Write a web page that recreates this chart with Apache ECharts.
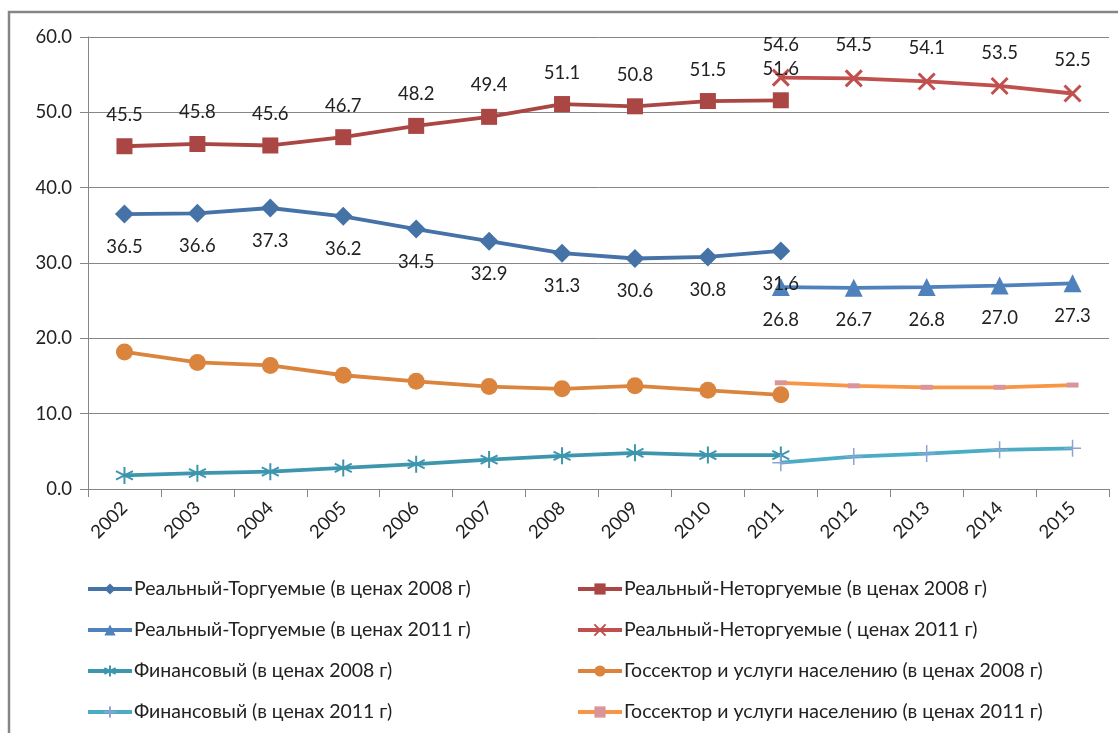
<!DOCTYPE html>
<html>
<head>
<meta charset="utf-8">
<script src="https://cdn.jsdelivr.net/npm/echarts@6/dist/echarts.min.js"></script>
<style>
  html, body { margin: 0; padding: 0; background: #fff; }
  #chart { width: 1118px; height: 733px; }
</style>
</head>
<body>
<div id="chart"></div>
<script>
// Years on the category axis
const years = ['2002','2003','2004','2005','2006','2007','2008','2009','2010','2011','2012','2013','2014','2015'];
const yTicks = { min: 0, max: 60, interval: 10 };

// Shares by sector, 2008 prices (2002–2011) and 2011 prices (2011–2015)
const tradable2008    = [36.5, 36.6, 37.3, 36.2, 34.5, 32.9, 31.3, 30.6, 30.8, 31.6, null, null, null, null];
const nonTradable2008 = [45.5, 45.8, 45.6, 46.7, 48.2, 49.4, 51.1, 50.8, 51.5, 51.6, null, null, null, null];
const tradable2011    = [null, null, null, null, null, null, null, null, null, 26.8, 26.7, 26.8, 27.0, 27.3];
const nonTradable2011 = [null, null, null, null, null, null, null, null, null, 54.6, 54.5, 54.1, 53.5, 52.5];
const financial2008   = [1.8, 2.1, 2.3, 2.8, 3.3, 3.9, 4.4, 4.8, 4.5, 4.5, null, null, null, null];
const publicSvc2008   = [18.2, 16.8, 16.4, 15.1, 14.3, 13.6, 13.3, 13.7, 13.1, 12.5, null, null, null, null];
const financial2011   = [null, null, null, null, null, null, null, null, null, 3.5, 4.3, 4.7, 5.2, 5.4];
const publicSvc2011   = [null, null, null, null, null, null, null, null, null, 14.1, 13.7, 13.5, 13.5, 13.8];

const names = [
  'Реальный-Торгуемые (в ценах 2008 г)',
  'Реальный-Неторгуемые (в ценах 2008 г)',
  'Реальный-Торгуемые (в ценах 2011 г)',
  'Реальный-Неторгуемые ( ценах 2011 г)',
  'Финансовый (в ценах 2008 г)',
  'Госсектор и услуги населению (в ценах 2008 г)',
  'Финансовый (в ценах 2011 г)',
  'Госсектор и услуги населению (в ценах 2011 г)'
];

const FONT = 'Lato, "Noto Sans", sans-serif';
const TEXT = '#222';

const X_PATH = 'path://M0,0L10,10M10,0L0,10';
const STAR_PATH = 'path://M5,0L5,10M0.7,2.5L9.3,7.5M0.7,7.5L9.3,2.5';
const PLUS_PATH = 'path://M5,0L5,10M0,5L10,5';
const DASH_PATH = 'path://M0,0L12,0L12,5L0,5Z';

const valueLabel = (pos) => ({
  show: true,
  position: pos,
  distance: 14,
  fontFamily: FONT,
  fontSize: 18.5,
  color: TEXT,
  formatter: (p) => p.value == null ? '' : Number(p.value).toFixed(1)
});

function lineSeries(name, data, color, extra) {
  return Object.assign({
    name: name,
    type: 'line',
    data: data,
    connectNulls: false,
    lineStyle: { color: color, width: 3.8 },
    itemStyle: { color: color },
    emphasis: { disabled: true },
    z: 3
  }, extra);
}

const series = [
  lineSeries(names[0], tradable2008, '#4572a7', {
    symbol: 'diamond', symbolSize: 19, label: valueLabel('bottom')
  }),
  lineSeries(names[1], nonTradable2008, '#aa4643', {
    symbol: 'rect', symbolSize: 16, label: valueLabel('top')
  }),
  lineSeries(names[2], tradable2011, '#4f81bd', {
    symbol: 'triangle', symbolSize: 18, label: valueLabel('bottom')
  }),
  lineSeries(names[3], nonTradable2011, '#c0504d', {
    symbol: X_PATH, symbolSize: 16,
    itemStyle: { color: 'transparent', borderColor: '#c0504d', borderWidth: 3 },
    label: valueLabel('top')
  }),
  lineSeries(names[4], financial2008, '#3d96ae', {
    symbol: STAR_PATH, symbolSize: 17,
    itemStyle: { color: 'transparent', borderColor: '#3d96ae', borderWidth: 2 }
  }),
  lineSeries(names[5], publicSvc2008, '#db843d', {
    symbol: 'circle', symbolSize: 17
  }),
  lineSeries(names[6], financial2011, '#4bacc6', {
    symbol: PLUS_PATH, symbolSize: 17,
    itemStyle: { color: 'transparent', borderColor: '#8da4d0', borderWidth: 1.5 }
  }),
  lineSeries(names[7], publicSvc2011, '#f79646', {
    symbol: DASH_PATH, symbolSize: [12, 5],
    itemStyle: { color: '#d9959a' }
  })
];

const legendCommon = {
  orient: 'vertical',
  itemWidth: 44,
  itemHeight: 14,
  itemGap: 21,
  padding: 0,
  height: 200,
  symbolKeepAspect: true,
  selectedMode: false,
  lineStyle: { width: 4 },
  textStyle: { fontFamily: FONT, fontSize: 19.5, color: TEXT, padding: [0, 0, 0, -3] }
};

const chart = echarts.init(document.getElementById('chart'), null, { renderer: 'canvas' });
chart.setOption({
  animation: false,
  backgroundColor: '#fff',
  grid: { left: 88, top: 37, right: 9, bottom: 244, containLabel: false },
  xAxis: {
    type: 'category',
    data: years,
    boundaryGap: true,
    axisLine: { lineStyle: { color: '#868686', width: 1 } },
    axisTick: { show: true, length: 8, lineStyle: { color: '#868686' } },
    axisLabel: { rotate: 45, margin: 16, fontFamily: FONT, fontSize: 18.5, color: TEXT }
  },
  yAxis: {
    type: 'value',
    min: yTicks.min,
    max: yTicks.max,
    interval: yTicks.interval,
    axisLine: { show: true, lineStyle: { color: '#868686', width: 1 } },
    axisTick: { show: true, length: 8, lineStyle: { color: '#868686' } },
    splitLine: { lineStyle: { color: '#868686', width: 1 } },
    axisLabel: { margin: 16, fontFamily: FONT, fontSize: 18.5, color: TEXT,
      formatter: (v) => v.toFixed(1) }
  },
  legend: [
    Object.assign({ left: 86, top: 579, data: [names[0], names[2], names[4], names[6]] }, legendCommon),
    Object.assign({ left: 576, top: 579, data: [names[1], names[3], names[5], names[7]] }, legendCommon)
  ],
  graphic: [{
    type: 'rect',
    shape: { x: 9, y: 12, width: 1300, height: 900 },
    style: { fill: 'none', stroke: '#868686', lineWidth: 2.5 },
    silent: true,
    z: 100
  }],
  series: series
});
</script>
</body>
</html>
